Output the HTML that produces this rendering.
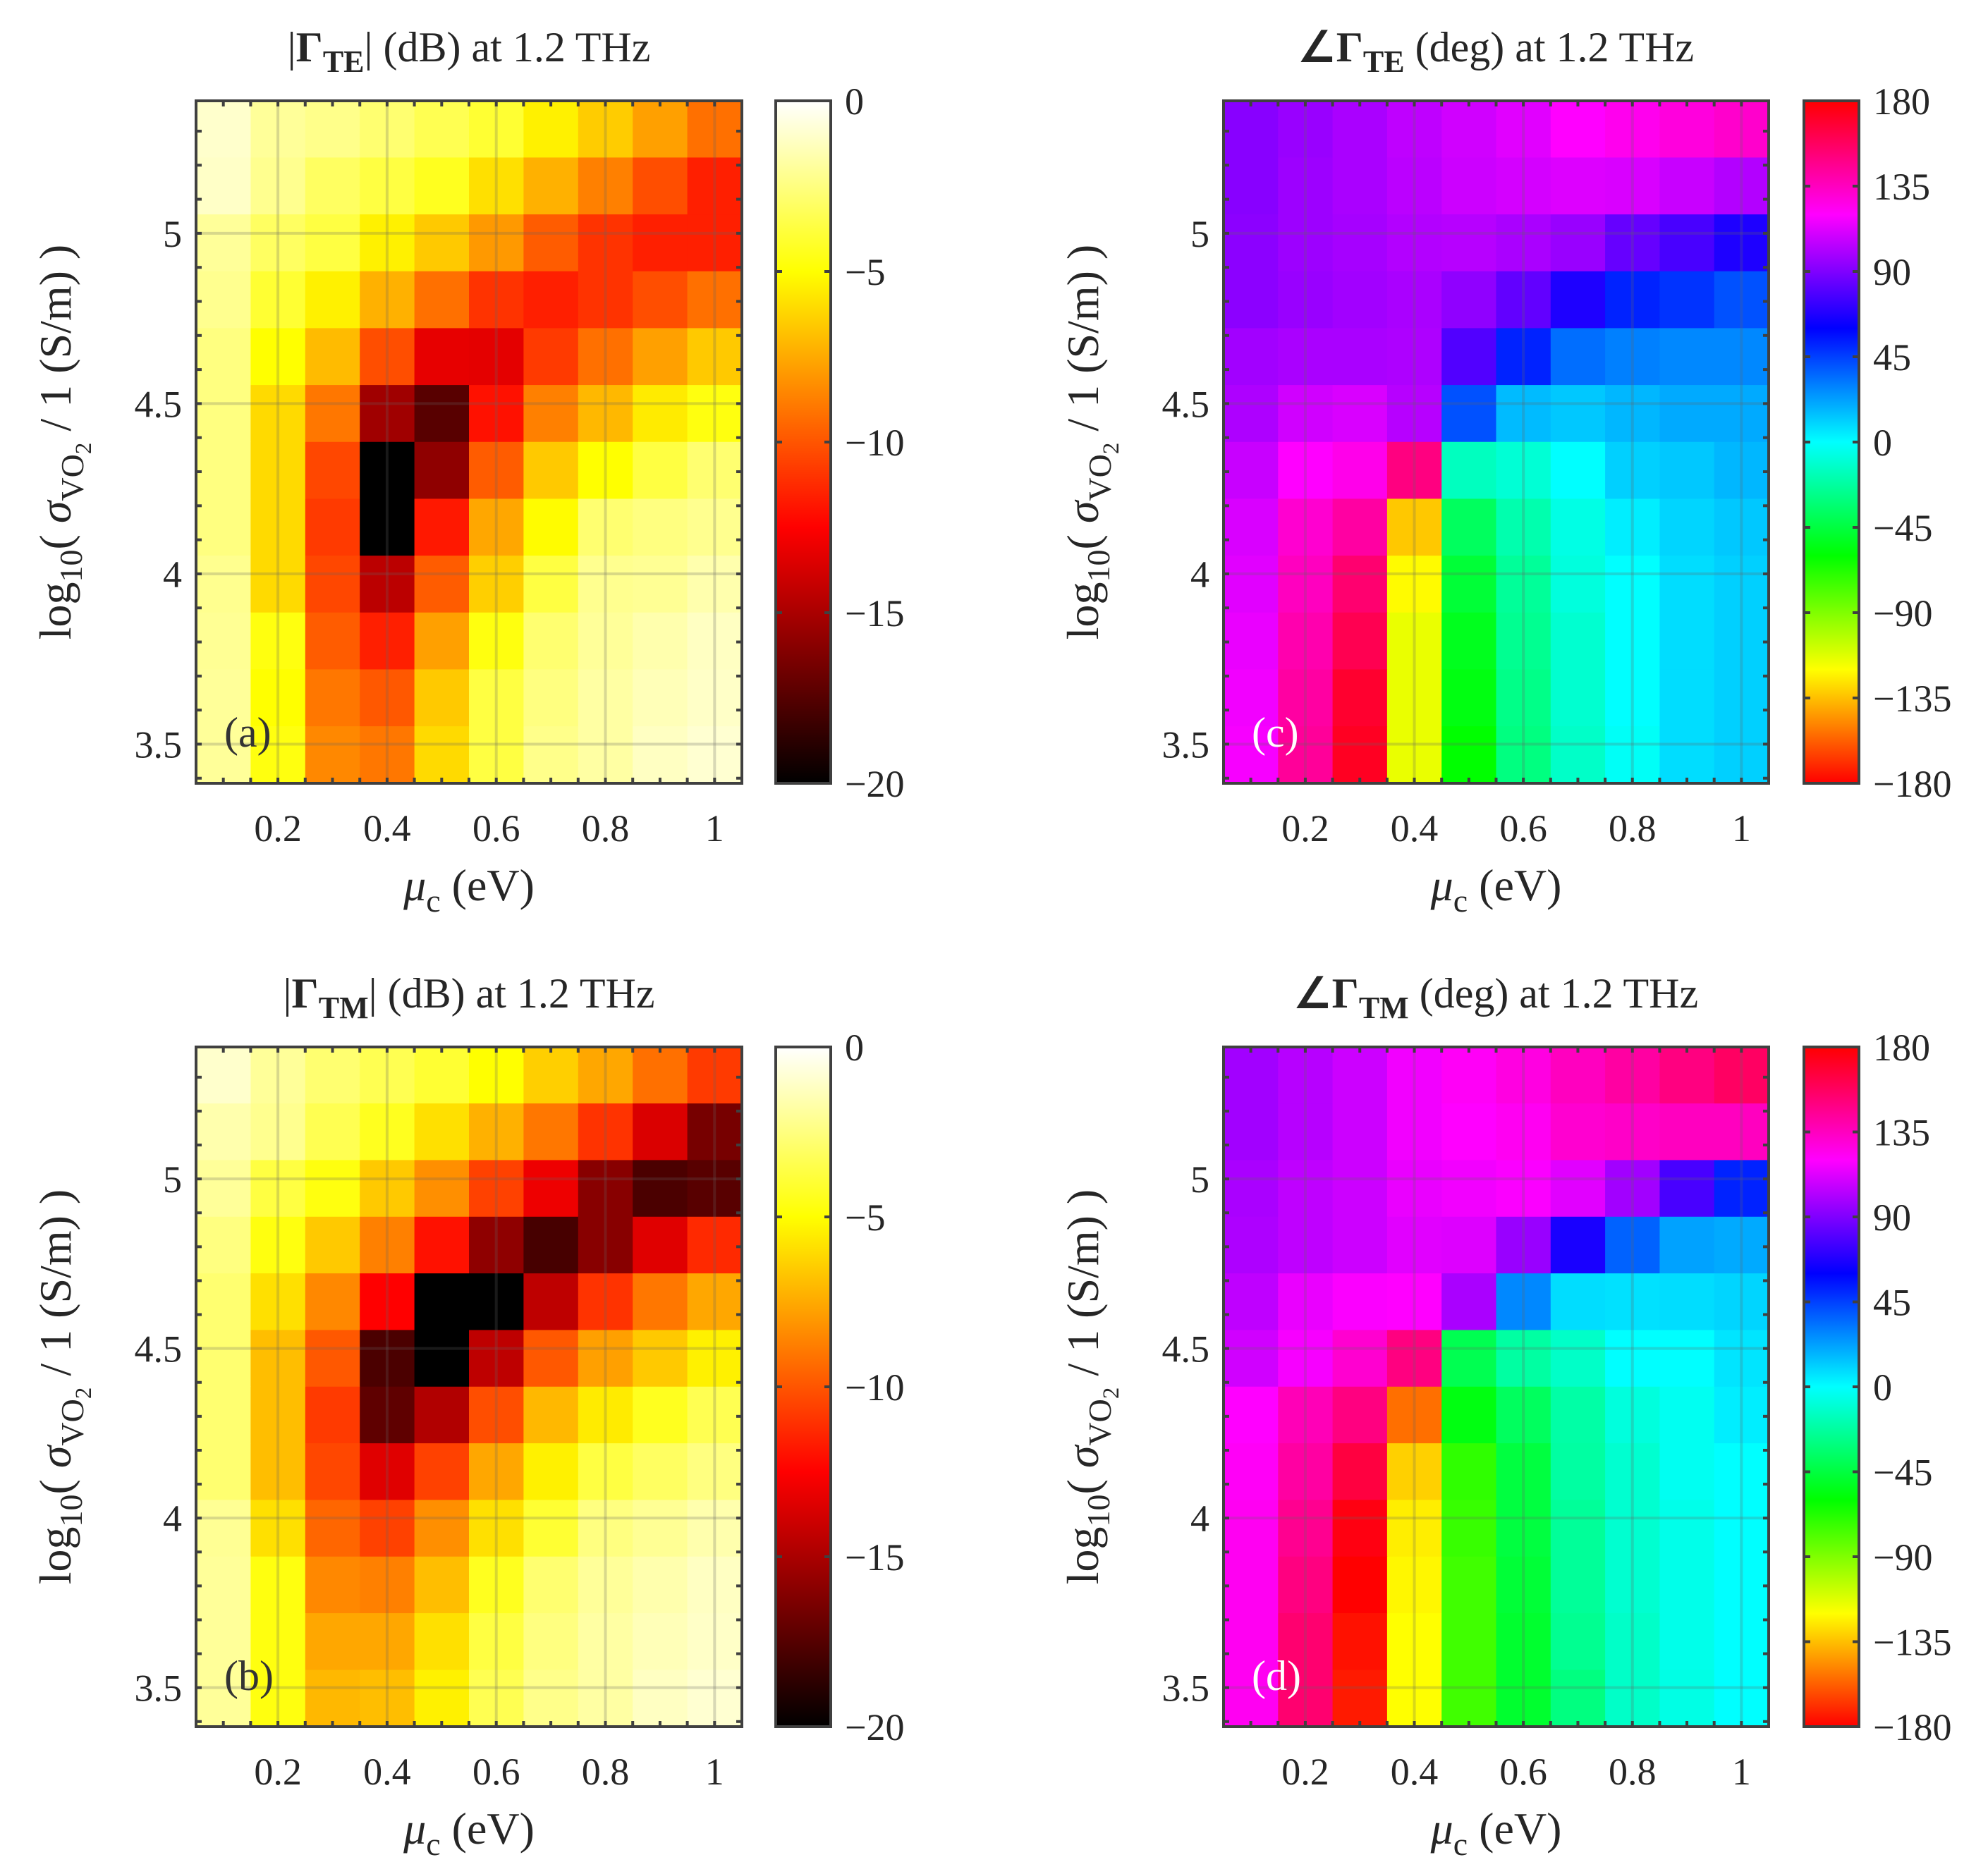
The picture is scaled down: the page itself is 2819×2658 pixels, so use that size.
<!DOCTYPE html>
<html><head><meta charset="utf-8"><style>
html,body{margin:0;padding:0;background:#fff}
svg{display:block}
text{font-family:"Liberation Serif",serif;fill:#262626}
</style></head><body>
<svg id="fig" xmlns="http://www.w3.org/2000/svg" width="2819" height="2658" viewBox="0 0 2819 2658"></svg>
<script>
// ---- data ----
const muValues = [0.1,0.2,0.3,0.4,0.5,0.6,0.7,0.8,0.9,1.0];
const sigmaLog = [5.306,5.139,4.972,4.805,4.638,4.471,4.304,4.137,3.970,3.803,3.636,3.469]; // top row first
const xTicks = [0.2,0.4,0.6,0.8,1];
const xTickLabels = ["0.2","0.4","0.6","0.8","1"];
const yTicks = [3.5,4,4.5,5];
const yTickLabels = ["3.5","4","4.5","5"];
const magTicks = [0,-5,-10,-15,-20];
const magTickLabels = ["0","\u22125","\u221210","\u221215","\u221220"];
const phTicks = [180,135,90,45,0,-45,-90,-135,-180];
const phTickLabels = ["180","135","90","45","0","\u221245","\u221290","\u2212135","\u2212180"];

const magTE = [
[-1,-2,-2.3,-2.8,-3.4,-4,-5.4,-6.5,-7.8,-9.2],
[-1.1,-2.2,-3.1,-3.7,-4.4,-5.9,-7.3,-8.75,-10.2,-11.6],
[-2,-3.1,-3.7,-5.4,-6.6,-8,-9.8,-11,-11.6,-11.6],
[-2.2,-4,-5.4,-7.3,-9.2,-11,-11.6,-11,-10.2,-9.2],
[-2.5,-5,-7,-10.2,-13.2,-13.3,-10.8,-9.2,-7.8,-6.6],
[-2.5,-6.1,-9,-15.3,-17.4,-12,-8.75,-7.1,-5.6,-4.7],
[-2.5,-6.1,-10.4,-20,-15.8,-9.8,-6.6,-5,-3.7,-2.8],
[-2.5,-6.1,-10.8,-20,-11.8,-7.6,-5.1,-2.8,-2.5,-2.2],
[-2.2,-6.1,-10.4,-14.5,-9.8,-6.4,-3.7,-2.2,-2.1,-1.6],
[-2.1,-4.7,-9.8,-11.6,-7.8,-4.7,-2.8,-2,-1.6,-1.2],
[-2,-5,-9,-9.9,-6.6,-3.7,-2.5,-1.8,-1.4,-1.1],
[-2,-4.7,-8.5,-9,-6.1,-3.7,-2.3,-1.8,-1.2,-0.9]];

const magTM = [
[-1,-2,-2.8,-3.4,-4,-5,-6.4,-7.6,-9.2,-10.8],
[-1.6,-2.2,-3.4,-4.4,-5.9,-7.3,-9,-11,-13.6,-16.5],
[-2,-3.7,-4.7,-6.6,-8.3,-10.6,-13,-16,-17.8,-17.4],
[-2.5,-4.7,-6.6,-8.75,-12,-15.8,-17.9,-16,-13.4,-11.3],
[-2.8,-5.9,-8.5,-12.5,-20,-20,-14.4,-11,-9,-7.6],
[-2.8,-6.9,-9.9,-17.8,-20,-14.4,-9.9,-7.8,-6.6,-5.4],
[-2.8,-6.9,-10.8,-17.2,-14.8,-10.2,-7.1,-5.6,-4.4,-3.4],
[-2.8,-6.9,-10.4,-13.4,-10.6,-7.6,-5.4,-3.7,-3.1,-2.5],
[-2.1,-5.9,-9.5,-10.6,-8.3,-5.9,-4,-2.5,-2.1,-1.6],
[-2,-4.7,-8.5,-8.75,-6.9,-4.4,-2.8,-2,-1.6,-1.2],
[-2,-4.7,-7.6,-7.6,-5.9,-3.7,-2.5,-1.8,-1.4,-1.1],
[-2,-4.7,-7.1,-6.9,-5.4,-3.4,-2.3,-1.8,-1.2,-0.9]];

const phaseTE = [
[92,96,100,105,109,113,120,124,128,132],
[92,97,100,104,108,110,112,111,107,102],
[93,97,99,102,103,100,96,84,77,67],
[93,96,98,100,94,83,67,52,48,41],
[98,100,100,101,79,52,34,30,28,28],
[101,109,111,103,41,16,13,17,20,20],
[107,120,125,150,-15,-10,0,11,13,17],
[111,131,142,-133,-38,-19,-6,4,10,13],
[113,135,154,-121,-47,-24,-8,0,8,11],
[115,139,161,-115,-53,-26,-11,0,8,11],
[117,142,169,-115,-56,-28,-11,0,8,11],
[118,144,172,-115,-60,-30,-13,-2,8,11]];

const phaseTM = [
[98,103,108,117,122,127,135,142,150,157],
[98,103,108,117,120,123,131,133,135,135],
[100,105,108,115,117,119,113,98,77,52],
[101,105,108,113,112,96,66,37,22,20],
[105,115,119,120,100,28,8,7,8,10],
[109,118,131,150,-41,-22,-13,0,0,6],
[120,137,150,-154,-56,-38,-21,-8,-3,4],
[122,142,165,-131,-71,-45,-22,-11,-3,0],
[123,146,176,-124,-73,-45,-24,-11,-5,0],
[123,150,-180,-122,-75,-47,-24,-11,-5,0],
[123,154,-176,-120,-75,-49,-26,-13,-5,0],
[123,154,-174,-120,-75,-49,-30,-13,-6,0]];

// ---- helpers ----
const NS="http://www.w3.org/2000/svg";
const svg=document.getElementById('fig');
function mk(tag,attrs,parent){const e=document.createElementNS(NS,tag);for(const k in attrs)e.setAttribute(k,attrs[k]);(parent||svg).appendChild(e);return e;}
function clamp(v){return Math.max(0,Math.min(1,v));}
function hot(v){const t=clamp((v+20)/20);const r=clamp(t/0.375),g=clamp((t-0.375)/0.375),b=clamp((t-0.75)/0.25);return `rgb(${Math.round(r*255)},${Math.round(g*255)},${Math.round(b*255)})`;}
function hsv(v){let h=((v+180)%360+360)%360;const s=h/60,i=Math.floor(s)%6,f=s-Math.floor(s);const q=1-f;
 const c=[[1,f,0],[q,1,0],[0,1,f],[0,q,1],[f,0,1],[1,0,q]][i];
 return `rgb(${Math.round(c[0]*255)},${Math.round(c[1]*255)},${Math.round(c[2]*255)})`;}

const defs=mk('defs',{});
const gh=mk('linearGradient',{id:'gHot',x1:0,y1:1,x2:0,y2:0},defs);
for(let i=0;i<=40;i++){const v=-20+i*0.5;mk('stop',{offset:(i/40),'stop-color':hot(v)},gh);}
const gs=mk('linearGradient',{id:'gHsv',x1:0,y1:1,x2:0,y2:0},defs);
for(let i=0;i<=72;i++){const v=-180+i*5;mk('stop',{offset:(i/72),'stop-color':hsv(v)},gs);}

const XMIN=0.05,XMAX=1.05,YMIN=3.385,YMAX=5.389;
const AX="#404040";

function panel(opt){
 const {x0,y0,x1,y1,data,cmap,name,label,labelColor,cb,title}=opt;
 const g=mk('g',{});
 
 
 const sx=v=>x0+(v-XMIN)/(XMAX-XMIN)*(x1-x0);
 const sy=v=>y1-(v-YMIN)/(YMAX-YMIN)*(y1-y0);
 const dx=0.1, dy=(sigmaLog[0]-sigmaLog[1]);
 for(let r=0;r<sigmaLog.length;r++)for(let c=0;c<muValues.length;c++){
  const xa=sx(muValues[c]-dx/2),xb=sx(muValues[c]+dx/2),ya=sy(sigmaLog[r]+dy/2),yb=sy(sigmaLog[r]-dy/2);
  const rc=mk('rect',{x:xa.toFixed(2),y:ya.toFixed(2),width:(xb-xa+0.6).toFixed(2),height:(yb-ya+0.6).toFixed(2),fill:cmap(data[r][c])},g);
  
  
 }
 xTicks.forEach(t=>mk('line',{x1:sx(t),x2:sx(t),y1:y0,y2:y1,stroke:'rgba(100,100,100,0.25)','stroke-width':4},g));
 yTicks.forEach(t=>mk('line',{x1:x0,x2:x1,y1:sy(t),y2:sy(t),stroke:'rgba(100,100,100,0.25)','stroke-width':4},g));
 for(let t=0.05;t<1.06;t+=0.05){const X=sx(t);if(X<=x0+2||X>=x1-2)continue;
  mk('line',{x1:X,x2:X,y1:y1,y2:y1-8,stroke:AX,'stroke-width':4},g);mk('line',{x1:X,x2:X,y1:y0,y2:y0+8,stroke:AX,'stroke-width':4},g);}
 for(let t=3.4;t<5.39;t+=0.1){const Y=sy(t);if(Y<=y0+2||Y>=y1-2)continue;
  mk('line',{x1:x0,x2:x0+8,y1:Y,y2:Y,stroke:AX,'stroke-width':4},g);mk('line',{x1:x1,x2:x1-8,y1:Y,y2:Y,stroke:AX,'stroke-width':4},g);}
 mk('rect',{x:x0,y:y0,width:x1-x0,height:y1-y0,fill:'none',stroke:AX,'stroke-width':4},g);
 xTicks.forEach((t,i)=>{const e=mk('text',{x:sx(t),y:y1+82,'font-size':54,'text-anchor':'middle'},g);e.textContent=xTickLabels[i];
  });
 yTicks.forEach((t,i)=>{const e=mk('text',{x:x0-20,y:sy(t)+19,'font-size':54,'text-anchor':'end'},g);e.textContent=yTickLabels[i];
  });
 const xl=mk('text',{x:(x0+x1)/2,y:y1+166,'font-size':64,'text-anchor':'middle'},g);
 
 xl.innerHTML='<tspan font-style="italic">μ</tspan><tspan font-size="46" dy="16">c</tspan><tspan dy="-16"> (eV)</tspan>';
 const cy=(y0+y1)/2, lx=x0-178;
 const yl=mk('text',{x:lx,y:cy,'font-size':64,'text-anchor':'middle',transform:`rotate(-90 ${lx} ${cy})`},g);
 
 yl.innerHTML='log<tspan font-size="46" dy="16">10</tspan><tspan dy="-16">( </tspan><tspan font-style="italic">σ</tspan><tspan font-size="46" dy="18">VO</tspan><tspan font-size="33" dy="11">2</tspan><tspan dy="-29">  / 1 (S/m) )</tspan>';
 const pl=mk('text',{x:x0+40,y:y1-52,'font-size':60},g);pl.textContent=label;
 pl.setAttribute('style','fill:'+labelColor);
 
 const tt=mk('text',{x:(x0+x1)/2,y:y0-56,'font-size':60,'text-anchor':'middle'},g);
 
 tt.innerHTML=title;
 const cbg=mk('g',{},g);
 
 mk('rect',{x:cb.x,y:y0,width:78,height:y1-y0,fill:cb.grad},cbg);
 const cs=v=>y1-(v-cb.min)/(cb.max-cb.min)*(y1-y0);
 cb.ticks.forEach((t,i)=>{const Y=cs(t);
  if(Y>y0+2&&Y<y1-2){mk('line',{x1:cb.x,x2:cb.x+9,y1:Y,y2:Y,stroke:AX,'stroke-width':4},cbg);mk('line',{x1:cb.x+78,x2:cb.x+69,y1:Y,y2:Y,stroke:AX,'stroke-width':4},cbg);}
  const e=mk('text',{x:cb.x+98,y:Y+19,'font-size':54},cbg);e.textContent=cb.labels[i];
  });
 mk('rect',{x:cb.x,y:y0,width:78,height:y1-y0,fill:'none',stroke:AX,'stroke-width':4},cbg);
}

const magCB=(x)=>({x:x,grad:'url(#gHot)',min:-20,max:0,ticks:magTicks,labels:magTickLabels});
const phCB=(x)=>({x:x,grad:'url(#gHsv)',min:-180,max:180,ticks:phTicks,labels:phTickLabels});

panel({x0:278,y0:143,x1:1052,y1:1111,data:magTE,cmap:hot,name:'panel-a-te-magnitude',label:'(a)',labelColor:'#333',cb:magCB(1100),
 title:'|<tspan font-weight="bold">Γ</tspan><tspan font-weight="bold" font-size="44" dy="15">TE</tspan><tspan dy="-15">| (dB) at 1.2 THz</tspan>'});
panel({x0:1735,y0:143,x1:2508,y1:1111,data:phaseTE,cmap:hsv,name:'panel-c-te-phase',label:'(c)',labelColor:'#fff',cb:phCB(2558),
 title:'<tspan font-weight="bold">∠Γ</tspan><tspan font-weight="bold" font-size="44" dy="15">TE</tspan><tspan dy="-15"> (deg) at 1.2 THz</tspan>'});
panel({x0:278,y0:1485,x1:1052,y1:2449,data:magTM,cmap:hot,name:'panel-b-tm-magnitude',label:'(b)',labelColor:'#333',cb:magCB(1100),
 title:'|<tspan font-weight="bold">Γ</tspan><tspan font-weight="bold" font-size="44" dy="15">TM</tspan><tspan dy="-15">| (dB) at 1.2 THz</tspan>'});
panel({x0:1735,y0:1485,x1:2508,y1:2449,data:phaseTM,cmap:hsv,name:'panel-d-tm-phase',label:'(d)',labelColor:'#fff',cb:phCB(2558),
 title:'<tspan font-weight="bold">∠Γ</tspan><tspan font-weight="bold" font-size="44" dy="15">TM</tspan><tspan dy="-15"> (deg) at 1.2 THz</tspan>'});
</script>
</body></html>
